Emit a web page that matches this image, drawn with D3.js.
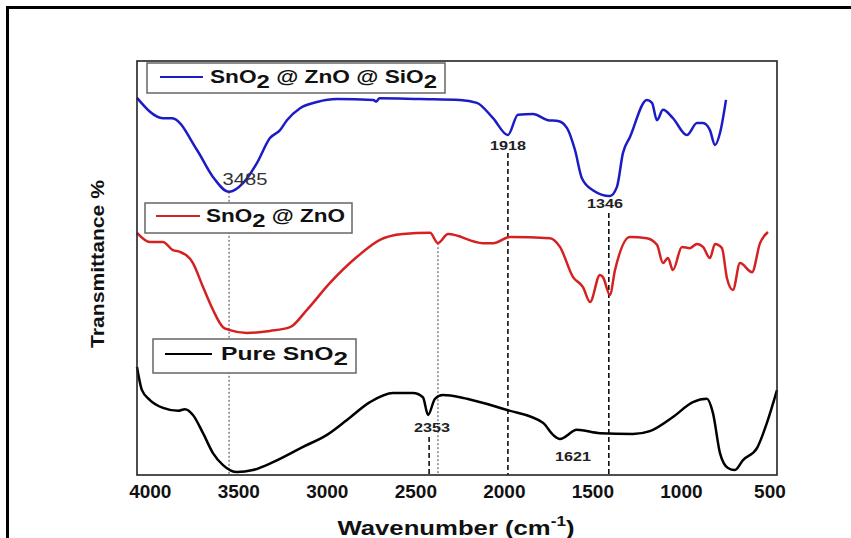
<!DOCTYPE html>
<html>
<head>
<meta charset="utf-8">
<script src="https://cdn.jsdelivr.net/npm/d3@7"></script>
<style>
  body { margin: 0; background: #fff; }
  text { font-family: "Liberation Sans", Arial, sans-serif; }
</style>
</head>
<body>
<div id="vis"></div>
<script>
const W = 851, H = 538;
const plot = { left: 137, right: 777, top: 61, bottom: 475 };

// wavenumber (cm-1), transmittance (arbitrary %, stacked)
const blueWn = [4075, 3928, 3877, 3736, 3646, 3555, 3476, 3397, 3324, 3267, 3228, 3154, 3058, 2945, 2740, 2725, 2705, 2477, 2251, 2155, 2064, 1980, 1923, 1838, 1754, 1697, 1646, 1601, 1562, 1500, 1404, 1364, 1330, 1291, 1195, 1166, 1138, 1104, 1048, 969, 912, 878, 839, 810, 782, 748];
const blueT = [91.1, 86.2, 86.2, 78.5, 72.0, 68.4, 70.5, 75.4, 81.4, 83.3, 85.7, 88.6, 90.1, 90.8, 90.6, 90.2, 91.0, 90.8, 90.6, 89.9, 86.2, 82.1, 87.0, 87.2, 85.7, 85.5, 83.8, 78.5, 71.7, 68.8, 67.4, 69.6, 77.8, 81.6, 90.6, 89.9, 85.7, 88.2, 86.2, 82.1, 85.0, 85.0, 83.3, 79.7, 82.6, 90.6];

const redWn = [4075, 4002, 3928, 3872, 3832, 3759, 3702, 3646, 3589, 3550, 3454, 3324, 3211, 3115, 2985, 2832, 2703, 2573, 2420, 2375, 2318, 2121, 2064, 1968, 1742, 1686, 1612, 1556, 1516, 1460, 1443, 1404, 1375, 1291, 1195, 1138, 1104, 1076, 1048, 997, 952, 912, 878, 839, 810, 771, 743, 709, 669, 601, 556, 511];
const redT = [58.5, 56.3, 56.3, 54.3, 53.9, 51.2, 45.4, 39.9, 35.7, 35.0, 34.3, 34.8, 35.7, 39.9, 46.4, 52.7, 56.8, 58.2, 58.5, 56.0, 58.2, 56.0, 56.0, 57.5, 57.2, 55.1, 47.8, 45.4, 41.8, 48.3, 47.8, 43.5, 49.5, 57.5, 57.2, 55.6, 51.2, 52.4, 49.5, 55.1, 54.8, 55.8, 55.1, 52.4, 55.8, 54.8, 47.6, 44.7, 51.2, 49.0, 56.0, 58.7];

const blackWn = [4075, 4047, 4002, 3928, 3843, 3804, 3759, 3702, 3646, 3589, 3510, 3420, 3307, 3137, 3002, 2889, 2759, 2629, 2516, 2460, 2431, 2392, 2347, 2251, 2211, 1985, 1782, 1725, 1686, 1590, 1460, 1274, 1178, 1048, 935, 856, 822, 782, 737, 698, 652, 573, 517, 460];
const blackT = [26.1, 20.5, 18.1, 16.2, 15.5, 15.9, 14.5, 10.1, 5.3, 2.4, 0.7, 1.2, 3.1, 6.8, 9.7, 13.3, 17.6, 19.8, 19.8, 18.8, 14.5, 18.4, 19.3, 18.8, 18.4, 15.7, 12.6, 9.7, 8.7, 10.9, 10.1, 9.9, 10.6, 14.0, 17.6, 18.4, 15.0, 5.3, 1.7, 1.2, 3.6, 6.5, 12.6, 20.5];

const xTicks = [4000, 3500, 3000, 2500, 2000, 1500, 1000, 500];

// vertical guide lines: position, top end, style
const guideWn = [3555, 2375, 2425, 1980, 1410];
const guideTop = [68.4, 56.0, 9.2, 77.8, 63.3];
const guideDashed = [false, false, true, true, true];

// peak labels
const peakText = ["3485", "1918", "1346", "2353", "1621"];
const peakWn = [3465, 1980, 1432, 2409, 1612];
const peakT = [70.0, 78.5, 64.5, 10.4, 3.4];

const series = [
  { name: ["SnO", "2", " @ ZnO @ SiO", "2"], wn: blueWn, t: blueT, color: "#1c1cc4" },
  { name: ["SnO", "2", " @ ZnO"], wn: redWn, t: redT, color: "#d42222" },
  { name: ["Pure SnO", "2"], wn: blackWn, t: blackT, color: "#000" },
];

const svg = d3.select("#vis").append("svg").attr("width", W).attr("height", H);

// outer frame
svg.append("path")
  .attr("d", `M7.5,${H} V7.5 H${W}`)
  .attr("fill", "none").attr("stroke", "#000").attr("stroke-width", 3);

const x = d3.scaleLinear().domain([4075, 460]).range([plot.left, plot.right]);
const y = d3.scaleLinear().domain([0, 100]).range([plot.bottom, plot.top]);

// guide lines
guideWn.forEach((wn, i) => {
  svg.append("line")
    .attr("x1", x(wn)).attr("x2", x(wn))
    .attr("y1", y(guideTop[i])).attr("y2", plot.bottom)
    .attr("stroke", guideDashed[i] ? "#111" : "#444")
    .attr("stroke-width", guideDashed[i] ? 1.6 : 1)
    .attr("stroke-dasharray", guideDashed[i] ? "5,3" : "2,2");
});

// curves
const line = d3.line().x(d => x(d[0])).y(d => y(d[1])).curve(d3.curveMonotoneX);
series.forEach(s => {
  svg.append("path")
    .datum(s.wn.map((w, i) => [w, s.t[i]]))
    .attr("d", line)
    .attr("fill", "none")
    .attr("stroke", s.color)
    .attr("stroke-width", 2.5)
    .attr("stroke-linejoin", "round");
});

// plot box
svg.append("rect")
  .attr("x", plot.left).attr("y", plot.top)
  .attr("width", plot.right - plot.left).attr("height", plot.bottom - plot.top)
  .attr("fill", "none").attr("stroke", "#222").attr("stroke-width", 1.6);

// peak labels
peakText.forEach((t, i) => {
  svg.append("text")
    .attr("x", x(peakWn[i])).attr("y", y(peakT[i]))
    .attr("text-anchor", "middle")
    .style("font-size", i === 0 ? "17px" : "13px")
    .style("font-weight", i === 0 ? "normal" : "bold")
    .attr("fill", i === 0 ? "#333" : "#222")
    .attr("textLength", i === 0 ? 45 : 36)
    .attr("lengthAdjust", "spacingAndGlyphs")
    .text(t);
});

// legends
const legendBoxes = [
  { x: 147, y: 63, w: 298, h: 30, lx1: 160, lx2: 203, tx: 210, base: 83, tw: 227 },
  { x: 145, y: 203, w: 207, h: 30, lx1: 156, lx2: 200, tx: 206, base: 222, tw: 139 },
  { x: 153, y: 339, w: 203, h: 34, lx1: 165, lx2: 212, tx: 221, base: 360, tw: 127 },
];
series.forEach((s, i) => {
  const b = legendBoxes[i];
  const g = svg.append("g");
  g.append("rect")
    .attr("x", b.x).attr("y", b.y).attr("width", b.w).attr("height", b.h)
    .attr("fill", "#fff").attr("stroke", "#666").attr("stroke-width", 1.5);
  g.append("line")
    .attr("x1", b.lx1).attr("x2", b.lx2).attr("y1", b.base - 6).attr("y2", b.base - 6)
    .attr("stroke", s.color).attr("stroke-width", 2);
  const t = g.append("text")
    .attr("x", b.tx).attr("y", b.base)
    .style("font-size", "18px").style("font-weight", "bold")
    .attr("fill", "#111")
    .attr("textLength", b.tw).attr("lengthAdjust", "spacingAndGlyphs");
  s.name.forEach((part, j) => {
    const sub = part === "2";
    t.append("tspan")
      .attr("y", sub ? b.base + 5 : b.base)
      .style("font-size", sub ? "19px" : "18px")
      .text(part);
  });
});

// x tick labels
svg.selectAll(".tick-label")
  .data(xTicks)
  .enter()
  .append("text")
  .attr("class", "tick-label")
  .attr("x", d => x(d))
  .attr("y", 498)
  .attr("text-anchor", "middle")
  .style("font-size", "19px")
  .style("font-weight", "bold")
  .attr("fill", "#111")
  .text(d => d);

// axis titles
const xt = svg.append("text")
  .attr("x", 456).attr("y", 535)
  .attr("text-anchor", "middle")
  .style("font-size", "21px").style("font-weight", "bold")
  .attr("fill", "#111")
  .attr("textLength", 237).attr("lengthAdjust", "spacingAndGlyphs");
xt.append("tspan").text("Wavenumber (cm");
xt.append("tspan").attr("dy", -9).style("font-size", "14px").text("-1");
xt.append("tspan").attr("dy", 9).text(")");

svg.append("text")
  .attr("transform", "translate(104,264) rotate(-90)")
  .attr("text-anchor", "middle")
  .style("font-size", "19px").style("font-weight", "bold")
  .attr("fill", "#111")
  .attr("textLength", 168).attr("lengthAdjust", "spacingAndGlyphs")
  .text("Transmittance %");
</script>
</body>
</html>
